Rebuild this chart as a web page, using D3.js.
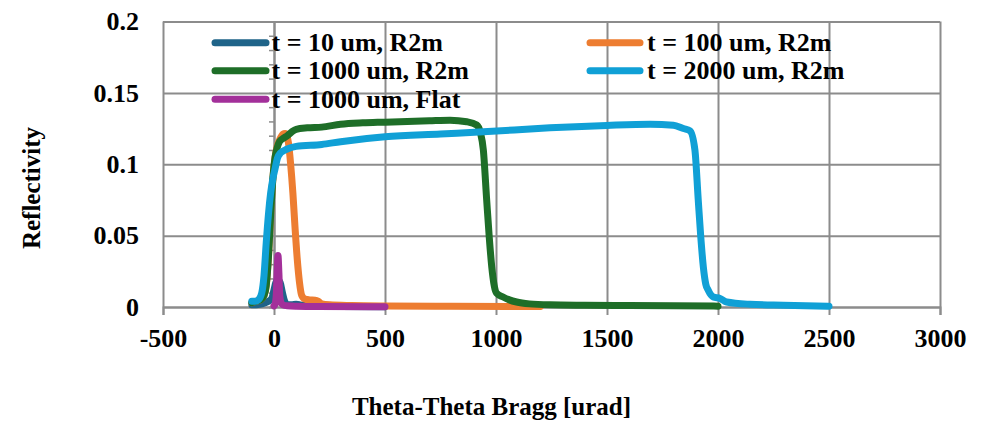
<!DOCTYPE html>
<html>
<head>
<meta charset="utf-8">
<script src="https://cdn.jsdelivr.net/npm/d3@7"></script>
<style>
  html, body { margin: 0; padding: 0; background: #fff; }
  svg { display: block; }
  text { font-family: "Liberation Serif", "Times New Roman", serif; font-weight: bold; fill: #000; }
</style>
</head>
<body>
<svg id="chart" width="983" height="423"></svg>
<script>
// Reflectivity curves, [theta - theta Bragg (urad), reflectivity]
const t10R2m = [
  [-100, 0.0015], [-80, 0.0015], [-60, 0.002], [-40, 0.003], [-25, 0.004], [-10, 0.006],
  [0, 0.012], [8, 0.017], [18, 0.019], [28, 0.017], [38, 0.01], [48, 0.004], [60, 0.0015],
  [80, 0.0015], [100, 0.002], [120, 0.0015], [150, 0.0008], [200, 0.0005],
  [300, 0.0003], [500, 0.0002]
];
const t100R2m = [
  [-100, 0.003], [-80, 0.004], [-60, 0.005], [-45, 0.008], [-35, 0.015], [-25, 0.035],
  [-15, 0.065], [-5, 0.09], [5, 0.105], [15, 0.113], [25, 0.117], [40, 0.121], [50, 0.1215],
  [58, 0.12], [65, 0.115], [75, 0.1], [85, 0.08], [95, 0.055], [105, 0.033], [115, 0.017],
  [125, 0.008], [140, 0.0055], [160, 0.005], [185, 0.0048], [200, 0.004], [215, 0.0022],
  [250, 0.0015], [350, 0.001], [500, 0.0007], [800, 0.0005], [1200, 0.0004]
];
const t1000R2m = [
  [-100, 0.003], [-80, 0.004], [-60, 0.005], [-45, 0.008], [-35, 0.015], [-25, 0.035],
  [-15, 0.065], [-5, 0.09], [5, 0.105], [15, 0.112], [25, 0.116], [40, 0.118], [60, 0.12],
  [80, 0.1227], [100, 0.1245], [150, 0.1255], [215, 0.126], [300, 0.128], [400, 0.129],
  [500, 0.1295], [600, 0.13], [700, 0.1305], [793, 0.1309], [868, 0.1298], [913, 0.1275],
  [930, 0.122], [943, 0.11], [958, 0.075], [970, 0.048], [981, 0.028], [992, 0.015],
  [1003, 0.0096], [1032, 0.007], [1060, 0.005], [1093, 0.0035], [1150, 0.0022],
  [1243, 0.0015], [1400, 0.0012], [1600, 0.001], [1800, 0.0008], [2000, 0.0006]
];
const t2000R2m = [
  [-100, 0.004], [-85, 0.004], [-70, 0.005], [-55, 0.01], [-45, 0.022], [-35, 0.045],
  [-25, 0.065], [-15, 0.08], [-5, 0.09], [5, 0.097], [15, 0.104], [30, 0.108], [57, 0.1105],
  [100, 0.1125], [215, 0.1139], [300, 0.1158], [500, 0.1192], [750, 0.1212], [943, 0.1227],
  [1243, 0.1255], [1500, 0.1272], [1694, 0.128], [1799, 0.1274], [1844, 0.125],
  [1874, 0.1234], [1896, 0.11], [1911, 0.075], [1922, 0.05], [1934, 0.028], [1945, 0.016],
  [1956, 0.0117], [1979, 0.007], [2009, 0.006], [2039, 0.0035], [2144, 0.0019],
  [2294, 0.0012], [2500, 0.0005]
];
const t1000Flat = [
  [0, 0.0008], [5, 0.002], [10, 0.008], [14, 0.024], [18, 0.036], [22, 0.024], [26, 0.008],
  [32, 0.003], [40, 0.0015], [60, 0.0008], [100, 0.0005], [200, 0.0003], [500, 0.0002]
];

const seriesNames = [
  "t = 10 um, R2m", "t = 100 um, R2m", "t = 1000 um, R2m", "t = 2000 um, R2m", "t = 1000 um, Flat"
];
const seriesValues = [t10R2m, t100R2m, t1000R2m, t2000R2m, t1000Flat];
const seriesColors = ["#1f6489", "#ed7d31", "#1e6e28", "#10a0d6", "#a3309a"];

const xTicks = [-500, 0, 500, 1000, 1500, 2000, 2500, 3000];
const yTicks = [0, 0.05, 0.1, 0.15, 0.2];
const yMinorTicks = d3.range(0, 0.2001, 0.01).map(v => +v.toFixed(2));
const xTitle = "Theta-Theta Bragg [urad]";
const yTitle = "Reflectivity";

// Plot geometry
const plot = { left: 163, right: 940, top: 21.5, bottom: 307 };
const gridColor = "#8c8c8c";

const svg = d3.select("#chart");

const x = d3.scaleLinear().domain([-500, 3000]).range([plot.left, plot.right]);
const y = d3.scaleLinear().domain([0, 0.2]).range([plot.bottom, plot.top]);

// Gridlines
svg.append("g")
  .attr("transform", `translate(0,${plot.bottom})`)
  .call(d3.axisBottom(x).tickValues(xTicks).tickSize(-(plot.bottom - plot.top)).tickFormat(""))
  .call(g => g.select(".domain").remove())
  .call(g => g.selectAll("line").attr("stroke", gridColor).attr("stroke-width", 2));

svg.append("g")
  .attr("transform", `translate(${plot.left},0)`)
  .call(d3.axisLeft(y).tickValues(yTicks).tickSize(-(plot.right - plot.left)).tickFormat(""))
  .call(g => g.select(".domain").remove())
  .call(g => g.selectAll("line").attr("stroke", gridColor).attr("stroke-width", 2));

// Horizontal axis: ticks below the zero line, labels under them
svg.append("g")
  .attr("transform", `translate(0,${plot.bottom})`)
  .call(d3.axisBottom(x).tickValues(xTicks).tickSize(8).tickFormat(d => String(d)))
  .call(g => g.select(".domain").attr("stroke", gridColor).attr("stroke-width", 2))
  .call(g => g.selectAll("line").attr("stroke", gridColor).attr("stroke-width", 2))
  .call(g => g.selectAll("text")
    .attr("y", 40).attr("dy", null)
    .style("font-size", "26px"));

// Vertical axis labels, placed at the left edge of the plot
svg.append("g")
  .attr("transform", `translate(${plot.left},0)`)
  .call(d3.axisLeft(y).tickValues(yTicks).tickSize(0).tickPadding(24).tickFormat(d => String(d)))
  .call(g => g.select(".domain").remove())
  .call(g => g.selectAll("text").style("font-size", "26px"));

// Vertical axis crosses at x = 0 with minor ticks
svg.append("g")
  .attr("transform", `translate(${x(0)},0)`)
  .call(d3.axisLeft(y).tickValues(yMinorTicks).tickSize(5).tickFormat(""))
  .call(g => g.select(".domain").attr("stroke", gridColor).attr("stroke-width", 2))
  .call(g => g.selectAll("line").attr("stroke", gridColor).attr("stroke-width", 1.5));

// Curves
const line = d3.line()
  .x(d => x(d[0]))
  .y(d => y(d[1]))
  .curve(d3.curveMonotoneX);

svg.append("g")
  .selectAll("path")
  .data(seriesValues)
  .join("path")
  .attr("d", line)
  .attr("fill", "none")
  .attr("stroke", (d, i) => seriesColors[i])
  .attr("stroke-width", 7)
  .attr("stroke-linecap", "round")
  .attr("stroke-linejoin", "round");

// Legend: two columns, filled row by row
const legendCols = [{ x0: 215, x1: 266, tx: 271.5 }, { x0: 590, x1: 640, tx: 647 }];
const legendRowY = [42.7, 70.7, 99.3];

const legend = svg.append("g")
  .selectAll("g")
  .data(seriesNames)
  .join("g")
  .attr("transform", (d, i) => `translate(0,${legendRowY[Math.floor(i / 2)]})`);

legend.append("line")
  .attr("x1", (d, i) => legendCols[i % 2].x0)
  .attr("x2", (d, i) => legendCols[i % 2].x1)
  .attr("stroke", (d, i) => seriesColors[i])
  .attr("stroke-width", 7)
  .attr("stroke-linecap", "round");

legend.append("text")
  .attr("x", (d, i) => legendCols[i % 2].tx)
  .attr("y", 8.5)
  .style("font-size", "26px")
  .text(d => d);

// Axis titles
svg.append("text")
  .attr("x", 491.5)
  .attr("y", 415)
  .attr("text-anchor", "middle")
  .style("font-size", "25px")
  .text(xTitle);

svg.append("text")
  .attr("transform", "translate(40,188) rotate(-90)")
  .attr("text-anchor", "middle")
  .style("font-size", "25px")
  .text(yTitle);
</script>
</body>
</html>
